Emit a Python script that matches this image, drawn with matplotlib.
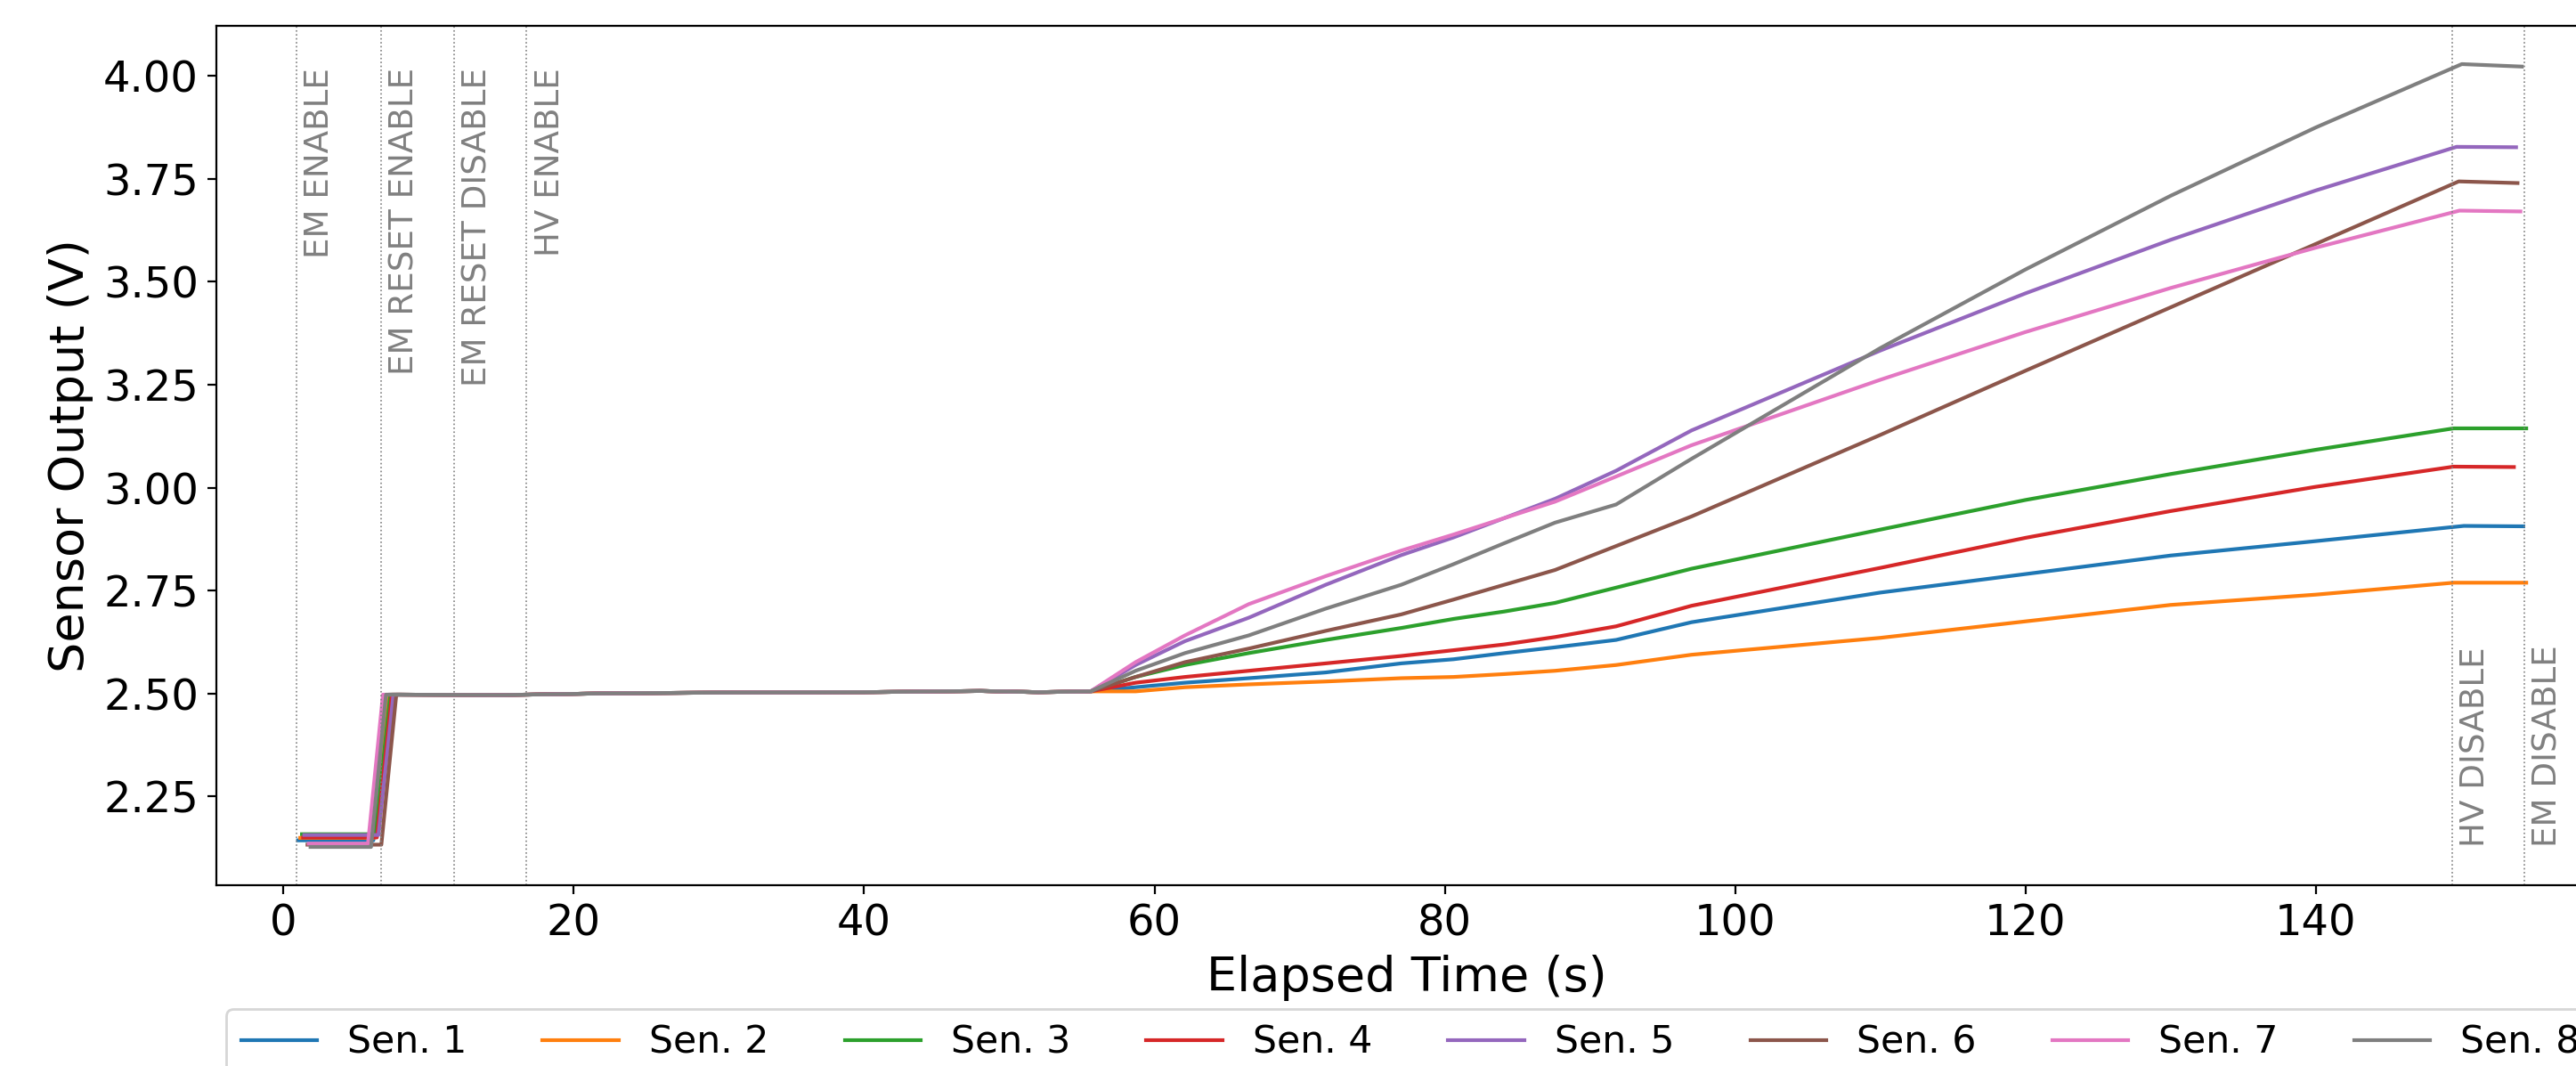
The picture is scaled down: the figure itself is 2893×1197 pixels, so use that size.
import numpy as np
import matplotlib
matplotlib.use("Agg")
import matplotlib.pyplot as plt

# ---------------- data ----------------
sensors = ["Sen. 1", "Sen. 2", "Sen. 3", "Sen. 4", "Sen. 5", "Sen. 6", "Sen. 7", "Sen. 8"]
colors = ["#1f77b4", "#ff7f0e", "#2ca02c", "#d62728", "#9467bd", "#8c564b", "#e377c2", "#7f7f7f"]

# low (pre-reset) phase
t_start = [1.00, 1.15, 1.27, 1.35, 1.43, 1.65, 1.74, 1.86]
t_low_end = [6.19, 6.23, 6.33, 6.43, 6.54, 6.74, 5.82, 6.03]
t_high_start = [7.22, 7.26, 7.36, 7.46, 7.57, 7.77, 6.85, 7.06]
v_low = [2.143, 2.149, 2.158, 2.150, 2.156, 2.1325, 2.135, 2.127]

# common plateau after reset
plateau_t = [8.0, 15.0, 22.0, 30.0, 40.0, 48.0, 52.0]
plateau_v = [2.497, 2.496, 2.500, 2.502, 2.503, 2.506, 2.503]

# rise after HV enable
rise_t = [55.6, 58.7, 62.1, 66.5, 71.8, 77.0, 80.6, 84.1, 87.6, 91.8, 97.0, 110.0, 120.0, 130.0, 140.0]
rise_v = [
    [2.505, 2.515, 2.526, 2.537, 2.551, 2.573, 2.583, 2.598, 2.612, 2.630, 2.673, 2.745, 2.790, 2.835, 2.870],
    [2.505, 2.505, 2.515, 2.522, 2.529, 2.537, 2.540, 2.547, 2.555, 2.569, 2.594, 2.635, 2.675, 2.715, 2.740],
    [2.505, 2.540, 2.569, 2.598, 2.630, 2.659, 2.681, 2.699, 2.720, 2.757, 2.803, 2.898, 2.970, 3.033, 3.092],
    [2.505, 2.526, 2.540, 2.555, 2.573, 2.591, 2.605, 2.619, 2.637, 2.663, 2.713, 2.805, 2.878, 2.943, 3.002],
    [2.505, 2.569, 2.627, 2.684, 2.764, 2.836, 2.879, 2.926, 2.973, 3.041, 3.139, 3.333, 3.472, 3.602, 3.722],
    [2.505, 2.540, 2.576, 2.609, 2.652, 2.692, 2.728, 2.764, 2.800, 2.858, 2.930, 3.128, 3.284, 3.438, 3.592],
    [2.505, 2.576, 2.641, 2.717, 2.785, 2.847, 2.886, 2.926, 2.966, 3.027, 3.103, 3.262, 3.378, 3.485, 3.583],
    [2.505, 2.555, 2.598, 2.641, 2.706, 2.764, 2.814, 2.865, 2.915, 2.959, 3.070, 3.339, 3.530, 3.709, 3.875],
]

# peak at HV disable and final value
t_peak = [150.2, 149.5, 149.5, 149.5, 149.7, 149.85, 149.9, 150.06]
v_peak = [2.907, 2.769, 3.144, 3.051, 3.828, 3.744, 3.673, 4.029]
t_end = [154.3, 154.5, 154.5, 153.65, 153.8, 153.9, 154.1, 154.2]
v_end = [2.906, 2.769, 3.144, 3.050, 3.827, 3.740, 3.671, 4.023]

event_t = [0.88, 6.73, 11.77, 16.75, 149.4, 154.4]
event_labels = ["EM ENABLE", "EM RESET ENABLE", "EM RESET DISABLE", "HV ENABLE", "HV DISABLE", "EM DISABLE"]
event_at_top = [True, True, True, True, False, False]

# ---------------- plot ----------------
W, H, DPI = 2893, 1197, 200
fig = plt.figure(figsize=(W / DPI, H / DPI), dpi=DPI)
ax = fig.add_axes([242.6 / W, 1 - 994 / H, (2917 - 242.6) / W, (994 - 29) / H])

handles = []
for i, name in enumerate(sensors):
    t = [t_start[i], t_low_end[i], t_high_start[i]] + plateau_t + rise_t + [t_peak[i], t_end[i]]
    v = [v_low[i], v_low[i], plateau_v[0]] + plateau_v + rise_v[i] + [v_peak[i], v_end[i]]
    h, = ax.plot(t, v, color=colors[i], lw=1.5, label=name)
    handles.append(h)

ymin_data, ymax_data = min(v_low), max(v_peak)
for et, lab, top in zip(event_t, event_labels, event_at_top):
    ax.axvline(et, color="gray", ls=":", lw=0.6)
    if top:
        ax.text(et + 0.45, 4.02, lab, rotation=90, va="top", ha="left",
                color="gray", fontsize=13.4)
    else:
        ax.text(et + 0.45, ymin_data, lab, rotation=90, va="bottom", ha="left",
                color="gray", fontsize=13.4)

ax.set_xlim(-4.65, 159.4)
ax.set_ylim(2.034, 4.122)
ax.set_yticks([2.25, 2.50, 2.75, 3.00, 3.25, 3.50, 3.75, 4.00])
ax.set_xticks([0, 20, 40, 60, 80, 100, 120, 140])
ax.tick_params(labelsize=17.3)
ax.set_xlabel("Elapsed Time (s)", fontsize=19.5)
ax.set_ylabel("Sensor Output (V)", fontsize=19.5)

fig.legend(handles=handles, loc="upper left", bbox_to_anchor=(253.5 / W, 1 - 1132.7 / H),
           ncol=8, fontsize=15.35, borderaxespad=0)

fig.savefig("out.png", dpi=DPI)
